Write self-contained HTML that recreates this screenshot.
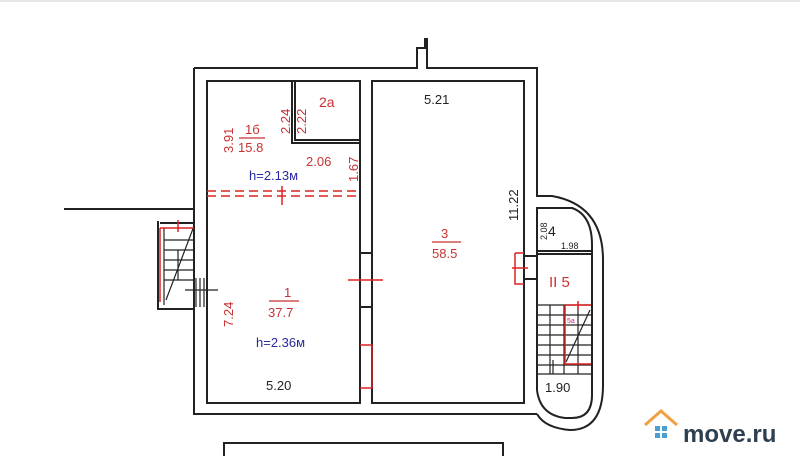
<!DOCTYPE html>
<html><head><meta charset="utf-8"><style>
html,body{margin:0;padding:0;background:#fff;width:800px;height:456px;overflow:hidden}
svg{display:block}
text{font-family:"Liberation Sans",sans-serif}
</style></head><body>
<svg width="800" height="456" viewBox="0 0 800 456" xmlns="http://www.w3.org/2000/svg">
<line x1="0" y1="1" x2="800" y2="1" stroke="#e6e6e6" stroke-width="2"/>
<g fill="none" stroke="#222" stroke-width="2">
<path d="M194 68 H417 V48 H425 V38"/>
<path d="M427 38 V68 H537 V196 H552 Q603 205 603 260 V385 Q603 430 570 430 Q545 428 537 414"/>
<path d="M537 414 H194 V68"/>
<rect x="207" y="81" width="153" height="322"/>
<rect x="372" y="81" width="152" height="322"/>
<path d="M537 208 H572 Q592 215 592 245 V395 Q592 418 572 418 H565 Q540 415 537 390 Z"/>
<path d="M292 81 V143 H360 M295 81 V140 H360"/>
<path d="M64 209 H194 M160 223 H194 M158 221 V309 H194"/>
<path d="M224 456 V443 H503 V456"/>
<path d="M360 253 H372 M360 307 H372"/>
<path d="M524 256 H537 M524 279 H537"/>
<line x1="537" y1="251" x2="592" y2="251"/>
<line x1="537" y1="254" x2="592" y2="254"/>
</g>
<g stroke="#222" stroke-width="1.2" fill="none">
<path d="M164 228 V305 M164 240 H194 M164 250 H194 M164 260 H194 M164 270 H194 M164 280 H194 M166 300 L194 226 M178 250 V280"/>
<path d="M196 278 V307 M200 278 V307 M204 278 V307 M185 290 H218"/>
<path d="M537 305 H592 M537 315 H592 M537 325 H592 M537 335 H592 M537 345 H592 M537 355 H592 M537 365 H592 M537 374 H592 M550 305 V374 M564 305 V374 M578 305 V374 M566 362 L590 310 M578 338 V362 M553 360 V374"/>
</g>
<g fill="none" stroke="#d22" stroke-width="1.5">
<path d="M207 191 H360 M207 196 H360" stroke-dasharray="9 5"/>
<path d="M282 186 V205"/>
<path d="M160 228 H194 M178 220 V232 M160 228 V302"/>
<path d="M348 280 H383"/>
<path d="M360 345 H372 V388 H360"/>
<path d="M515 253 H524 M515 253 V284 H524 M512 268 H528"/>
<path d="M565 305 H591 M565 305 V364 H591 M578 301 V310"/>
</g>
<g font-size="13" fill="#c83232">
<text x="245" y="134">1б</text>
<line x1="239" y1="138" x2="265" y2="138" stroke="#c83232" stroke-width="1.2"/>
<text x="238" y="152">15.8</text>
<text x="319" y="107" font-size="14">2а</text>
<text x="306" y="166">2.06</text>
<text transform="translate(233,153) rotate(-90)">3.91</text>
<text transform="translate(290,134) rotate(-90)">2.24</text>
<text transform="translate(306,134) rotate(-90)">2.22</text>
<text transform="translate(358,182) rotate(-90)">1.67</text>
<text x="284" y="297">1</text>
<line x1="269" y1="301" x2="299" y2="301" stroke="#c83232" stroke-width="1.2"/>
<text x="268" y="317">37.7</text>
<text transform="translate(233,327) rotate(-90)">7.24</text>
<text x="441" y="238">3</text>
<line x1="432" y1="242" x2="461" y2="242" stroke="#c83232" stroke-width="1.2"/>
<text x="432" y="258">58.5</text>
<text x="549" y="287" font-size="15">II 5</text>
<text x="567" y="323" font-size="7" fill="#c0307a">5а</text>
</g>
<g font-size="13" fill="#222">
<text x="424" y="104">5.21</text>
<text x="266" y="390">5.20</text>
<text x="545" y="392">1.90</text>
<text transform="translate(518,221) rotate(-90)">11.22</text>
<text transform="translate(547,240) rotate(-90)" font-size="9">2.08</text>
<text x="548" y="236" font-size="14">4</text>
<text x="561" y="249" font-size="9">1.98</text>
</g>
<text x="249" y="180" font-size="13" fill="#2a2aa0">h=2.13м</text>
<text x="256" y="347" font-size="13" fill="#2a2aa0">h=2.36м</text>
<path d="M645 425 L661 411 L677 425" fill="none" stroke="#f0a040" stroke-width="3"/>
<g fill="#4a9fd0"><rect x="655" y="426" width="5" height="5"/><rect x="662" y="426" width="5" height="5"/><rect x="655" y="433" width="5" height="5"/><rect x="662" y="433" width="5" height="5"/></g>
<text x="683" y="442" font-size="24" font-weight="bold" fill="#2e3f4f">move.ru</text>
</svg>
</body></html>
